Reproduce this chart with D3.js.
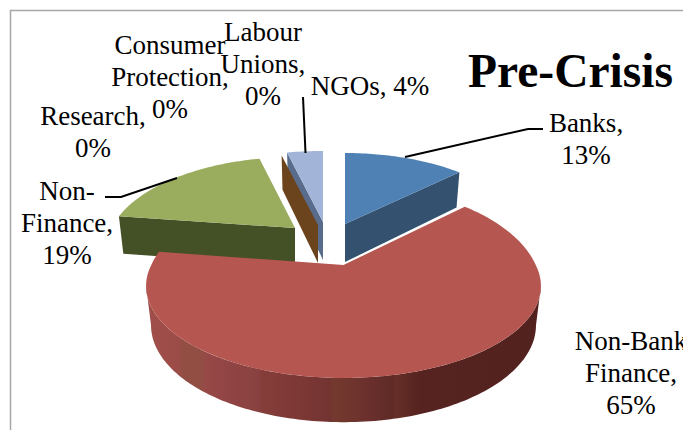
<!DOCTYPE html>
<meta charset="utf-8">
<style>
body { margin: 0; background: #fff; }
svg { display: block; }
text { font-family: "Liberation Serif", serif; fill: #000; }
.label { font-size: 27px; text-anchor: middle; }
.title { font-size: 47.5px; font-weight: bold; }
.leader { fill: none; stroke: #000; stroke-width: 2; }
</style>
<body>
<script src="https://d3js.org/d3.v7.min.js"></script>
<script>
// values (share of the slice, labels are rounded)
var categories = ["Banks", "Non-Bank Finance", "Non-Finance", "Research", "Consumer Protection", "Labour Unions", "NGOs"];
var values = [13, 64.2, 19, 0.05, 0.05, 0.05, 3.65];
var percentLabels = ["13%", "65%", "19%", "0%", "0%", "0%", "4%"];
var titleText = "Pre-Crisis";

// layout, same order as categories
var labelLines = [
  ["Banks,", "13%"],
  ["Non-Bank", "Finance,", "65%"],
  ["Non-", "Finance,", "19%"],
  ["Research,", "0%"],
  ["Consumer", "Protection,", "0%"],
  ["Labour", "Unions,", "0%"],
  ["NGOs, 4%"]
];
var labelPos = [[586, 132], [631, 350], [67, 200], [93, 125], [170, 54], [263, 41], [370, 95]];
var leaders = [
  [[405, 157], [528, 129], [543, 129]],
  null,
  [[177, 178], [121, 197], [105, 197]],
  null, null, null,
  [[305.5, 153], [303, 97]]
];
// how far each slice is pulled away from the pie centre
var shift = [[1, -41], [-0.5, 0], [-49, -37], [-26, -40], [-26, -40], [-26, -40], [-21, -43]];
var spread = [0.94, 0.996, 0.95, 1, 1, 1, 1];
var backStretch = [1, 1.13, 1, 1, 1, 1, 1];
var topColor = ["#4f81b5", "#b55650", "#9aad5e", "#6b431c", "#6b431c", "#6b431c", "#a2b5d8"];
var wallColor = ["#34526f", "#5a2320", "#445026", "#6b431c", "#6b431c", "#6b431c", "#5a6c8c"];
var drawOrder = [6, 5, 2, 0, 1];

var w = 683, h = 430;
var cx = 344, cy = 265, radius = 193, tilt = 87.2, persp = 0.228;
var baseScaleX = 0.975, baseScaleY = 1.055, depth = 38;

var svg = d3.select("body").append("svg").attr("width", w).attr("height", h);

svg.append("path")
    .attr("d", "M10.5," + h + "V10.5H" + w)
    .attr("fill", "none")
    .attr("stroke", "#a6a6a6")
    .attr("stroke-width", 1.5);

var pie = d3.pie().sort(null).value(function(d) { return d; });
var arcs = pie(values);
var line = d3.line();

// point on the top of a slice, a = angle clockwise from 12 o'clock, r = 0..1
function topPoint(a, r, i) {
  var u = r * Math.sin(a), v = -r * Math.cos(a), k = 1 - persp * v;
  var back = v < 0 ? backStretch[i] : 1;
  return [cx + shift[i][0] + spread[i] * radius * u / k, cy + shift[i][1] + back * tilt * v / k];
}
function basePoint(a, r, i) {
  var u = r * Math.sin(a), v = -r * Math.cos(a), k = 1 - persp * v;
  return [cx + shift[i][0] + spread[i] * baseScaleX * radius * u / k, cy + shift[i][1] + depth + baseScaleY * tilt * v / k];
}
function rim(fn, a0, a1, i) {
  var n = Math.max(2, Math.ceil((a1 - a0) / 0.02));
  return d3.range(n + 1).map(function(j) { return fn(a0 + (a1 - a0) * j / n, 1, i); });
}

// the long wall of the big slice gets darker to the right, in faint bands
var redShade = d3.scaleLinear()
    .domain([150, 178, 182, 202, 206, 240, 258, 262, 300, 330, 334, 370, 392, 396, 420, 540])
    .range(["#a04e49", "#9c4c48", "#934e43", "#934e43", "#964847", "#8e4342", "#894241", "#853d39", "#7c3835", "#733431", "#743a2e", "#6a2f2c", "#5f2a26", "#662f28", "#562320", "#52221f"]);

var grad = svg.append("defs").append("linearGradient")
    .attr("id", "redWall")
    .attr("gradientUnits", "userSpaceOnUse")
    .attr("x1", 150).attr("x2", 540).attr("y1", 0).attr("y2", 0);
redShade.domain().forEach(function(x) {
  grad.append("stop")
      .attr("offset", (x - 150) / 390)
      .attr("stop-color", redShade(x));
});

// rim angles where the disc is widest on screen, the round wall runs between them
var wideAngle = Math.acos(-persp);

drawOrder.forEach(function(i) {
  var a0 = arcs[i].startAngle, a1 = arcs[i].endAngle;
  var g = svg.append("g").attr("class", "slice");

  // straight wall on the side that faces the viewer
  if (i === 0) {
    g.append("path")
        .attr("d", line([topPoint(a1, 0, i), topPoint(a1, 1, i), basePoint(a1, 1, i), basePoint(a1, 0, i)]) + "Z")
        .attr("fill", wallColor[i]);
  }
  if (i === 2 || i === 5 || i === 6) {
    g.append("path")
        .attr("d", line([topPoint(a0, 0, i), topPoint(a0, 1, i), basePoint(a0, 1, i), basePoint(a0, 0, i)]) + "Z")
        .attr("fill", wallColor[i]);
  }

  if (i === 1) {
    var wa0 = wideAngle, wa1 = 2 * Math.PI - wideAngle;
    var pts = rim(topPoint, wa0, wa1, i).concat(rim(basePoint, wa0, wa1, i).reverse());
    g.append("path").attr("d", line(pts) + "Z").attr("fill", "url(#redWall)");
  }

  if (i !== 5) {
    var top = [topPoint(a0, 0, i)].concat(rim(topPoint, a0, a1, i));
    g.append("path").attr("d", line(top) + "Z").attr("fill", topColor[i]);
  }
});

leaders.forEach(function(pts) {
  if (pts) svg.append("path").attr("class", "leader").attr("d", line(pts));
});

labelLines.forEach(function(lines, i) {
  var t = svg.append("text").attr("class", "label");
  lines.forEach(function(s, j) {
    t.append("tspan").attr("x", labelPos[i][0]).attr("y", labelPos[i][1] + j * 32).text(s);
  });
});

svg.append("text").attr("class", "title").attr("x", 468).attr("y", 87).text(titleText);
</script>
</body>
